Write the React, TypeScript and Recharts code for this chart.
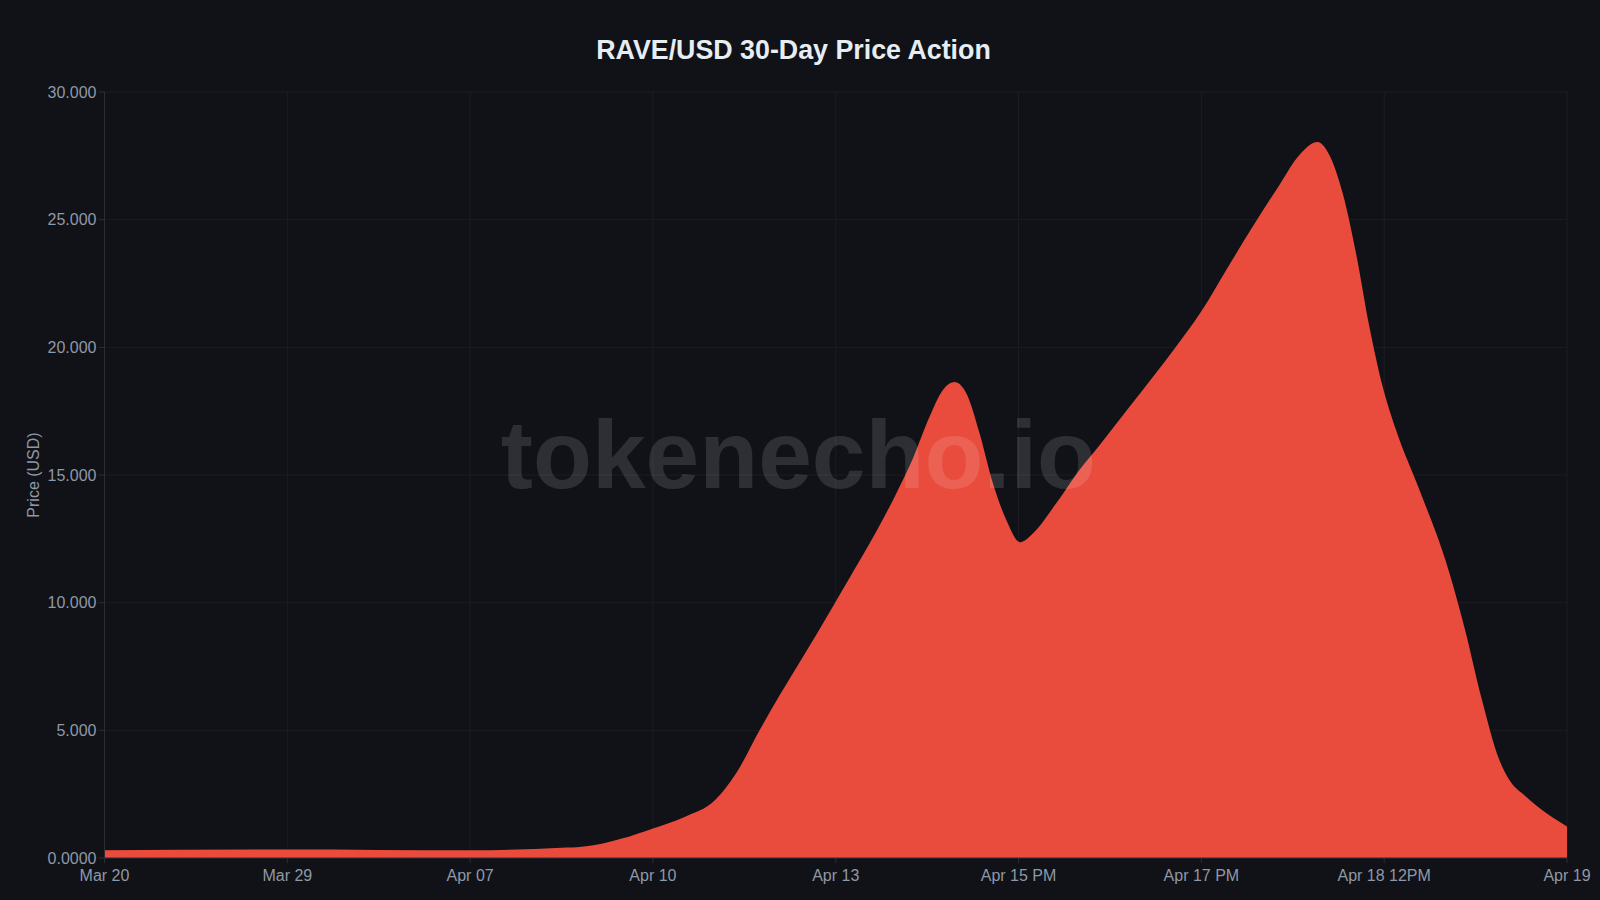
import React from "react";
import { AreaChart, Area, XAxis, YAxis, CartesianGrid } from "recharts";

const tickLabels = ["Mar 20", "Mar 29", "Apr 07", "Apr 10", "Apr 13", "Apr 15 PM", "Apr 17 PM", "Apr 18 12PM", "Apr 19"];
const axisSteps = [0, 1, 2, 2.5, 2.61, 2.72, 2.83, 3, 3.17, 3.34, 3.456, 3.584, 3.994, 4.331, 4.422, 4.513, 4.586, 4.65, 4.714, 4.787, 4.86, 4.933, 5.009, 5.078, 5.206, 5.333, 5.443, 5.607, 5.862, 5.999, 6.136, 6.281, 6.427, 6.536, 6.636, 6.7, 6.773, 6.846, 6.919, 6.992, 7.065, 7.193, 7.335, 7.44, 7.535, 7.63, 7.685, 7.776, 8];
const prices = [0.3, 0.33, 0.3, 0.4, 0.44, 0.56, 0.76, 1.16, 1.6, 2.27, 3.33, 5.01, 9.97, 14.28, 15.65, 17.28, 18.33, 18.64, 18.2, 16.63, 14.67, 13.24, 12.37, 12.71, 13.89, 15.2, 16.17, 17.67, 20.03, 21.4, 23.03, 24.73, 26.36, 27.53, 28.04, 27.53, 26.03, 23.68, 20.81, 18.46, 16.76, 14.41, 11.67, 9.0, 6.19, 3.84, 3.05, 2.4, 1.23];
const yTicks = [0, 5, 10, 15, 20, 25, 30];
const rows = axisSteps.map((step, i) => ({ step, price: prices[i] }));

const BG = "#101217";
const TEXT = "#8f98a6";
const FONT = "'Liberation Sans', Arial, sans-serif";

export default function App() {
  return (
    <div style={{ position: "fixed", left: 0, top: 0, width: 1600, height: 900, background: BG, overflow: "hidden", fontFamily: FONT }}>
      <div style={{ position: "absolute", left: 0, width: 1587, top: 33, textAlign: "center", color: "#e6edf3", fontSize: 26.8, fontWeight: 700, lineHeight: "34px" }}>
        RAVE/USD 30-Day Price Action
      </div>
      <AreaChart width={1600} height={900} data={rows} margin={{ top: 92, right: 33, bottom: 12, left: 0 }}>
        <CartesianGrid stroke="#1b1d22" strokeWidth={1} />
        <XAxis
          dataKey="step"
          type="number"
          height={30}
          domain={[0, 8]}
          ticks={[0, 1, 2, 3, 4, 5, 6, 7, 8]}
          tickFormatter={(v: number) => tickLabels[v]}
          tick={{ fill: TEXT, fontSize: 16, fontFamily: FONT }}
          tickSize={5}
          tickMargin={7}
          interval={0}
          stroke="#2c2e33"
        />
        <YAxis
          width={104.5}
          domain={[0, 30]}
          ticks={yTicks}
          tickFormatter={(v: number) => (v === 0 ? "0.0000" : v.toFixed(3))}
          tick={{ fill: TEXT, fontSize: 16, fontFamily: FONT }}
          tickSize={6}
          tickMargin={2}
          stroke="#2c2e33"
          label={{ value: "Price (USD)", angle: -90, position: "insideLeft", offset: 33, style: { fill: TEXT, fontSize: 16, fontFamily: FONT, textAnchor: "middle" } }}
        />
        <Area dataKey="price" type="monotone" stroke="none" fill="#e94c3d" fillOpacity={1} isAnimationActive={false} />
      </AreaChart>
      <div style={{ position: "absolute", left: 400, width: 696, top: 400, textAlign: "right", color: "rgba(255,255,255,0.125)", fontSize: 96.5, fontWeight: 700, lineHeight: "110px", pointerEvents: "none", whiteSpace: "nowrap" }}>
        tokenecho.io
      </div>
    </div>
  );
}
